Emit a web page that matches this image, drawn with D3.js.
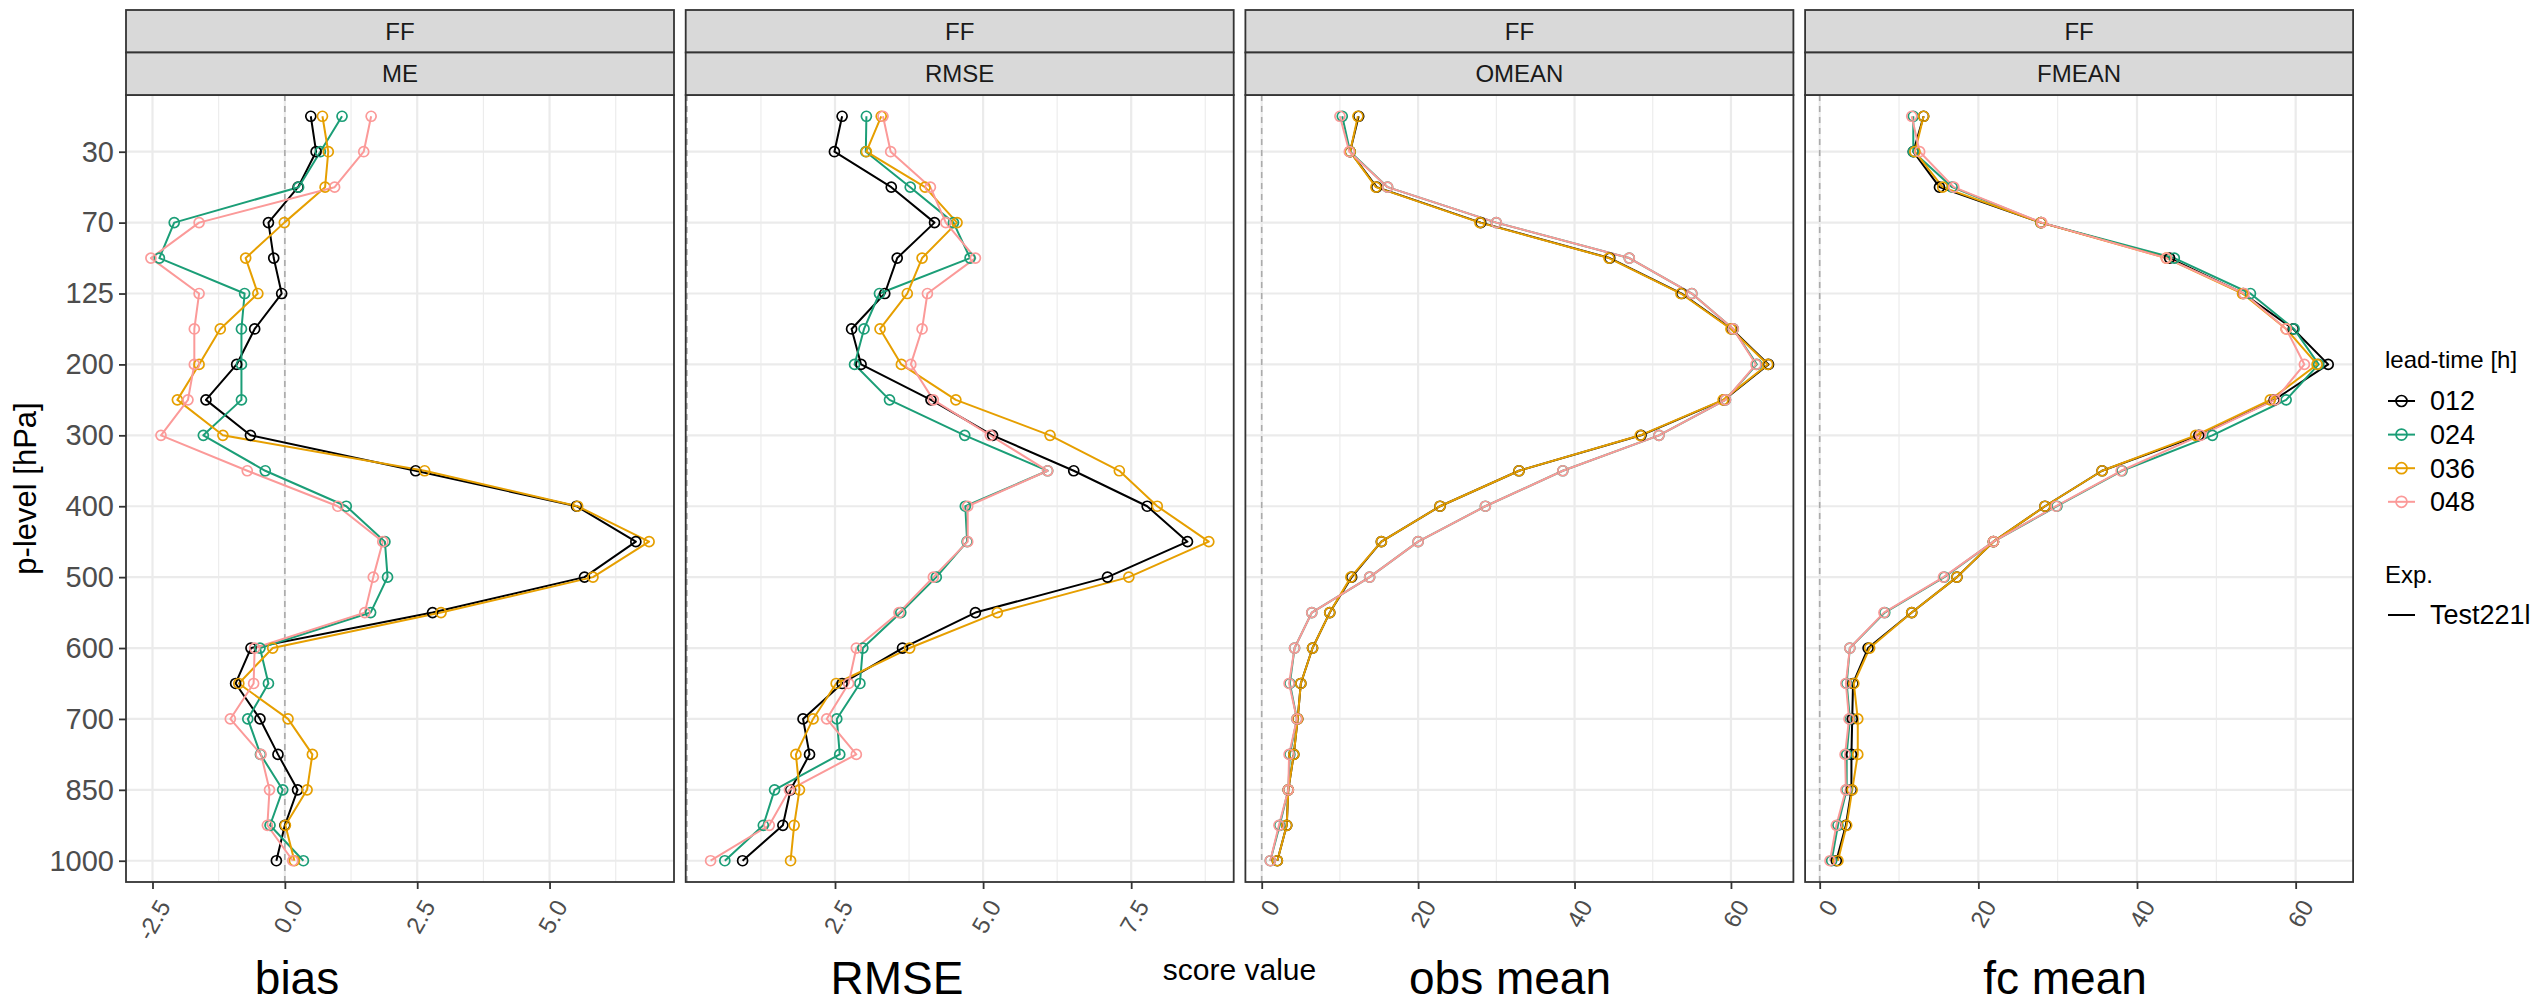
<!DOCTYPE html>
<html>
<head>
<meta charset="utf-8">
<script src="https://cdn.jsdelivr.net/npm/d3@7"></script>
<style>
  body { margin: 0; background: #fff; }
  text { font-family: "Liberation Sans", Arial, sans-serif; }
</style>
</head>
<body>
<div id="chart"></div>
<script>
// pressure levels, top of the profile first
const levels = ["20", "30", "50", "70", "100", "125", "150", "200", "250", "300", "350",
  "400", "450", "500", "550", "600", "650", "700", "800", "850", "925", "1000"]
const levelTicks = ["30", "70", "125", "200", "300", "400", "500", "600", "700", "850", "1000"]

const leadTimes = ["012", "024", "036", "048"]
const colours = ["#000000", "#1B9E77", "#E69F00", "#FB9A99"]

const scores = ["ME", "RMSE", "OMEAN", "FMEAN"]
const scoreTitles = ["bias", "RMSE", "obs mean", "fc mean"]
const meTicks = [-2.5, 0, 2.5, 5]
const rmseTicks = [2.5, 5, 7.5]
const meanTicks = [0, 20, 40, 60]

const me012 = [0.49, 0.59, 0.25, -0.31, -0.21, -0.06, -0.57, -0.91, -1.49, -0.65, 2.47, 5.51, 6.63, 5.66, 2.79, -0.64, -0.93, -0.47, -0.13, 0.24, 0.0, -0.16]
const me024 = [1.08, 0.67, 0.26, -2.09, -2.37, -0.76, -0.82, -0.82, -0.82, -1.54, -0.37, 1.16, 1.89, 1.94, 1.62, -0.47, -0.31, -0.70, -0.46, -0.04, -0.28, 0.35]
const me036 = [0.71, 0.82, 0.76, -0.01, -0.74, -0.51, -1.22, -1.62, -2.03, -1.17, 2.64, 5.53, 6.88, 5.82, 2.95, -0.23, -0.87, 0.06, 0.52, 0.42, 0.01, 0.18]
const me048 = [1.63, 1.49, 0.94, -1.62, -2.53, -1.62, -1.71, -1.71, -1.83, -2.34, -0.71, 1.00, 1.85, 1.67, 1.51, -0.57, -0.59, -1.03, -0.45, -0.29, -0.33, 0.15]

const rmse012 = [2.62, 2.49, 3.45, 4.18, 3.55, 3.34, 2.78, 2.94, 4.12, 5.16, 6.53, 7.77, 8.45, 7.10, 4.87, 3.64, 2.62, 1.96, 2.07, 1.75, 1.62, 0.94]
const rmse024 = [3.03, 3.02, 3.77, 4.50, 4.78, 3.25, 2.99, 2.83, 3.42, 4.69, 6.09, 4.70, 4.73, 4.21, 3.61, 2.97, 2.92, 2.53, 2.58, 1.48, 1.29, 0.64]
const rmse036 = [3.28, 3.03, 4.02, 4.56, 3.97, 3.72, 3.26, 3.62, 4.54, 6.13, 7.30, 7.94, 8.81, 7.46, 5.24, 3.76, 2.52, 2.13, 1.84, 1.90, 1.81, 1.75]
const rmse048 = [3.31, 3.44, 4.11, 4.37, 4.87, 4.06, 3.97, 3.78, 4.16, 5.12, 6.09, 4.74, 4.74, 4.16, 3.58, 2.86, 2.73, 2.36, 2.86, 1.73, 1.39, 0.40]

const omean012 = [12.4, 11.3, 14.7, 28.0, 44.5, 53.7, 60.1, 64.8, 59.1, 48.5, 32.9, 22.8, 15.3, 11.5, 8.7, 6.5, 5.0, 4.6, 4.1, 3.4, 3.2, 2.0]
const omean024 = [10.3, 11.3, 16.1, 30.0, 47.0, 55.0, 60.3, 63.3, 59.3, 50.8, 38.5, 28.6, 20.0, 13.8, 6.4, 4.2, 3.6, 4.5, 3.6, 3.4, 2.3, 1.1]
const omean036 = [12.3, 11.3, 14.6, 27.9, 44.4, 53.6, 60.0, 64.7, 59.0, 48.4, 32.9, 22.8, 15.3, 11.4, 8.7, 6.5, 5.0, 4.6, 4.1, 3.4, 3.2, 2.0]
const omean048 = [10.0, 11.2, 16.1, 30.0, 47.0, 55.0, 60.3, 63.2, 59.3, 50.8, 38.5, 28.6, 20.0, 13.8, 6.4, 4.2, 3.5, 4.5, 3.5, 3.4, 2.2, 1.1]

const fmean012 = [13.1, 11.8, 15.1, 27.9, 44.1, 53.4, 59.7, 64.1, 57.3, 47.8, 35.6, 28.4, 21.9, 17.3, 11.6, 6.1, 4.2, 4.1, 4.0, 4.0, 3.3, 2.1]
const fmean024 = [11.8, 11.8, 16.7, 27.9, 44.7, 54.3, 59.8, 62.9, 58.8, 49.5, 38.1, 29.9, 21.9, 15.7, 8.2, 3.8, 3.4, 3.8, 3.4, 3.4, 2.3, 1.5]
const fmean036 = [13.1, 12.0, 15.5, 27.9, 43.7, 53.3, 58.8, 62.7, 56.8, 47.4, 35.6, 28.4, 21.9, 17.3, 11.6, 6.3, 4.3, 4.8, 4.8, 4.1, 3.4, 2.3]
const fmean048 = [11.6, 12.6, 16.9, 28.0, 43.7, 53.5, 58.8, 61.1, 57.4, 48.0, 38.0, 29.8, 21.9, 15.6, 8.1, 3.8, 3.3, 3.7, 3.2, 3.3, 2.1, 1.3]

const panelSeries = [
    [me012, me024, me036, me048],
    [rmse012, rmse024, rmse036, rmse048],
    [omean012, omean024, omean036, omean048],
    [fmean012, fmean024, fmean036, fmean048]
]
const panelTicks = [meTicks, rmseTicks, meanTicks, meanTicks]
const panelFormat = [d => d.toFixed(1), d => d.toFixed(1), d => String(d), d => String(d)]

// layout
const width = 2544, height = 1003
const panelLeft = 126, panelStep = 559.7, panelWidth = 548
const stripTop = 10, stripH = 42.5
const plotTop = stripTop + 2 * stripH, plotBottom = 882
const titleX = [297, 897, 1510, 2065]

const svg = d3.select('#chart')
    .append('svg')
    .attr('width', width)
    .attr('height', height)

const y = d3.scalePoint()
    .domain(levels)
    .range([plotTop, plotBottom])
    .padding(0.6)

scores.forEach((score, i) => {
    const left = panelLeft + i * panelStep
    const right = left + panelWidth
    const series = panelSeries[i]
    const ticks = panelTicks[i]

    // ggplot style 5% expansion of the data range
    const [lo, hi] = d3.extent(series.flat())
    const pad = (hi - lo) * 0.05
    const x = d3.scaleLinear()
        .domain([lo - pad, hi + pad])
        .range([left, right])

    const step = ticks[1] - ticks[0]
    const minor = d3.range(ticks[0] - step / 2, hi + pad, step)
        .filter(v => v > lo - pad && v < hi + pad)

    const g = svg.append('g')

    g.append('clipPath')
        .attr('id', `clip${i}`)
        .append('rect')
        .attr('x', left)
        .attr('y', plotTop)
        .attr('width', panelWidth)
        .attr('height', plotBottom - plotTop)

    const grid = g.append('g').attr('clip-path', `url(#clip${i})`)
    grid.selectAll('.minor')
        .data(minor)
        .join('line')
        .attr('x1', d => x(d)).attr('x2', d => x(d))
        .attr('y1', plotTop).attr('y2', plotBottom)
        .attr('stroke', '#EBEBEB')
        .attr('stroke-width', 1.1)
    grid.selectAll('.major-x')
        .data(ticks)
        .join('line')
        .attr('x1', d => x(d)).attr('x2', d => x(d))
        .attr('y1', plotTop).attr('y2', plotBottom)
        .attr('stroke', '#EBEBEB')
        .attr('stroke-width', 2.2)
    grid.selectAll('.major-y')
        .data(levelTicks)
        .join('line')
        .attr('x1', left).attr('x2', right)
        .attr('y1', d => y(d)).attr('y2', d => y(d))
        .attr('stroke', '#EBEBEB')
        .attr('stroke-width', 2.2)
    grid.append('line')
        .attr('x1', x(0)).attr('x2', x(0))
        .attr('y1', plotTop).attr('y2', plotBottom)
        .attr('stroke', '#ABABAB')
        .attr('stroke-width', 1.6)
        .attr('stroke-dasharray', '6,5')

    const line = d3.line()
        .x(d => x(d))
        .y((d, k) => y(levels[k]))

    const marks = g.append('g').attr('clip-path', `url(#clip${i})`)
    marks.selectAll('path')
        .data(series)
        .join('path')
        .attr('fill', 'none')
        .attr('stroke', (d, k) => colours[k])
        .attr('stroke-width', 2)
        .attr('stroke-linejoin', 'round')
        .attr('d', line)
    series.forEach((vals, k) => {
        marks.append('g')
            .selectAll('circle')
            .data(vals)
            .join('circle')
            .attr('cx', d => x(d))
            .attr('cy', (d, j) => y(levels[j]))
            .attr('r', 5)
            .attr('fill', 'none')
            .attr('stroke', colours[k])
            .attr('stroke-width', 1.7)
    })

    // panel border
    g.append('rect')
        .attr('x', left).attr('y', plotTop)
        .attr('width', panelWidth).attr('height', plotBottom - plotTop)
        .attr('fill', 'none')
        .attr('stroke', '#333333')
        .attr('stroke-width', 1.8)

    // strips
    const strips = ['FF', score]
    strips.forEach((label, s) => {
        g.append('rect')
            .attr('x', left).attr('y', stripTop + s * stripH)
            .attr('width', panelWidth).attr('height', stripH)
            .attr('fill', '#D9D9D9')
            .attr('stroke', '#333333')
            .attr('stroke-width', 1.8)
        g.append('text')
            .attr('x', (left + right) / 2)
            .attr('y', stripTop + s * stripH + stripH / 2)
            .attr('dy', '0.35em')
            .attr('text-anchor', 'middle')
            .attr('font-size', 24)
            .attr('fill', '#1A1A1A')
            .text(label)
    })

    // x axis
    const xAxis = g.append('g')
        .attr('transform', `translate(0,${plotBottom})`)
        .call(d3.axisBottom(x).tickValues(ticks).tickFormat(panelFormat[i]).tickSize(7))
    xAxis.select('.domain').remove()
    xAxis.selectAll('line').attr('stroke', '#333333').attr('stroke-width', 1.8)
    xAxis.selectAll('text')
        .attr('y', 0)
        .attr('dy', null)
        .attr('text-anchor', 'end')
        .attr('dominant-baseline', 'central')
        .attr('transform', 'translate(11,20) rotate(-60)')
        .attr('font-size', 24)
        .attr('font-family', '"Liberation Sans", Arial, sans-serif')
        .attr('fill', '#4D4D4D')

    svg.append('text')
        .attr('x', titleX[i])
        .attr('y', 994)
        .attr('text-anchor', 'middle')
        .attr('font-size', 46)
        .attr('fill', '#000')
        .text(scoreTitles[i])
})

// y axis on the first panel
const yAxis = svg.append('g')
    .attr('transform', `translate(${panelLeft},0)`)
    .call(d3.axisLeft(y).tickValues(levelTicks).tickSize(7).tickPadding(5))
yAxis.select('.domain').remove()
yAxis.selectAll('line').attr('stroke', '#333333').attr('stroke-width', 1.8)
yAxis.selectAll('text')
    .attr('font-size', 29)
    .attr('font-family', '"Liberation Sans", Arial, sans-serif')
    .attr('fill', '#4D4D4D')

svg.append('text')
    .attr('transform', `translate(36,${(plotTop + plotBottom) / 2}) rotate(-90)`)
    .attr('text-anchor', 'middle')
    .attr('font-size', 31)
    .attr('fill', '#000')
    .text('p-level [hPa]')

svg.append('text')
    .attr('x', panelLeft + (3 * panelStep + panelWidth) / 2)
    .attr('y', 980)
    .attr('text-anchor', 'middle')
    .attr('font-size', 30)
    .attr('fill', '#000')
    .text('score value')

// legend
const legend = svg.append('g').attr('transform', 'translate(2385,0)')
legend.append('text')
    .attr('x', 0).attr('y', 368)
    .attr('font-size', 24)
    .text('lead-time [h]')
leadTimes.forEach((lt, k) => {
    const cy = 401 + k * 33.6
    legend.append('line')
        .attr('x1', 3).attr('x2', 30)
        .attr('y1', cy).attr('y2', cy)
        .attr('stroke', colours[k])
        .attr('stroke-width', 2)
    legend.append('circle')
        .attr('cx', 16.5).attr('cy', cy)
        .attr('r', 5.5)
        .attr('fill', 'none')
        .attr('stroke', colours[k])
        .attr('stroke-width', 1.7)
    legend.append('text')
        .attr('x', 45).attr('y', cy)
        .attr('dy', '0.35em')
        .attr('font-size', 27)
        .text(lt)
})
legend.append('text')
    .attr('x', 0).attr('y', 583)
    .attr('font-size', 24)
    .text('Exp.')
legend.append('line')
    .attr('x1', 3).attr('x2', 30)
    .attr('y1', 615).attr('y2', 615)
    .attr('stroke', '#000')
    .attr('stroke-width', 2)
legend.append('text')
    .attr('x', 45).attr('y', 615)
    .attr('dy', '0.35em')
    .attr('font-size', 27)
    .text('Test221l')
</script>
</body>
</html>
